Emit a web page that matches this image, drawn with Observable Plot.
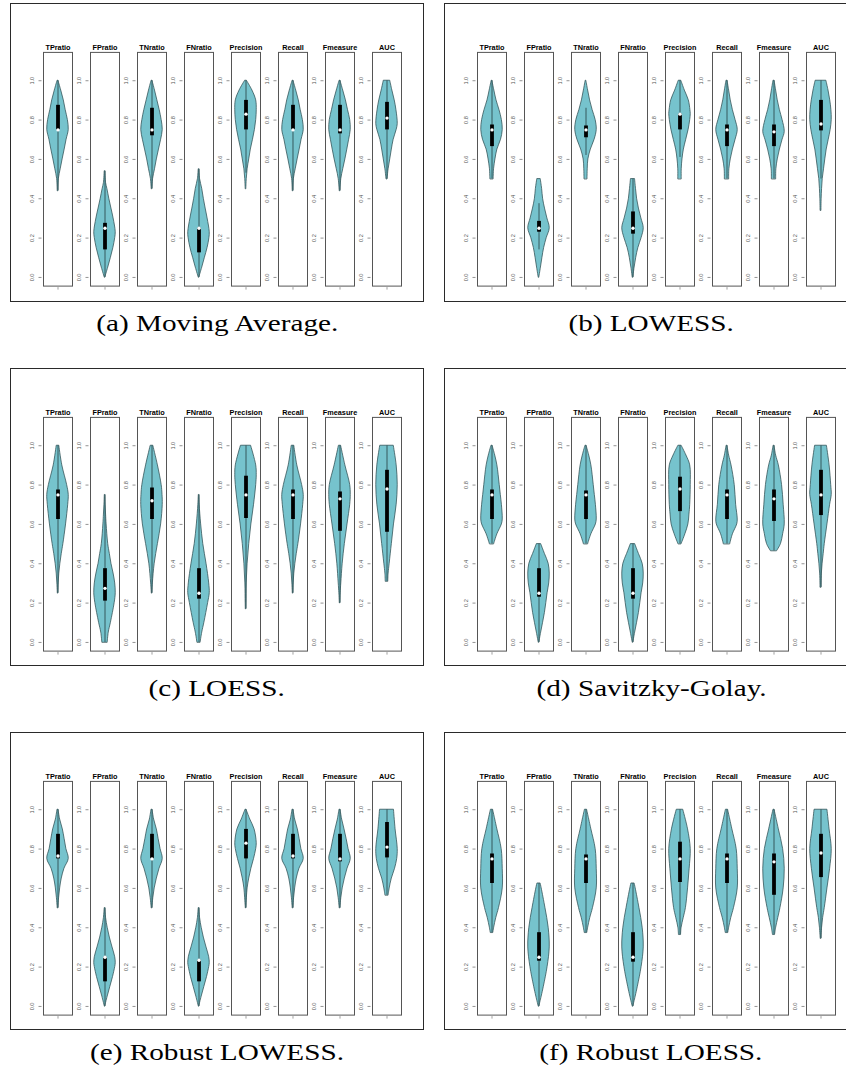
<!DOCTYPE html>
<html><head><meta charset="utf-8">
<script src="https://cdn.jsdelivr.net/npm/d3@7"></script>
<script src="https://cdn.jsdelivr.net/npm/@observablehq/plot@0.6"></script>
<style>
html,body{margin:0;padding:0;background:#fff;}
body{width:846px;height:1071px;overflow:hidden;position:relative;}
.panel{position:absolute;width:414px;height:298.5px;}
.panel .border{position:absolute;left:0;top:0;right:0;bottom:0;border:1.3px solid #2a2a2a;box-sizing:border-box;pointer-events:none;}
.panel svg{position:absolute;left:0;top:0;}
.cap{position:absolute;width:414px;text-align:center;font-family:"Liberation Serif","Times New Roman",serif;font-size:23px;line-height:23px;white-space:nowrap;color:#000;}
.cap span{display:inline-block;transform:scaleX(1.27);}
</style></head><body>
<script>
const metrics = ["TPratio","FPratio","TNratio","FNratio","Precision","Recall","Fmeasure","AUC"];
const captions = ["(a) Moving Average.","(b) LOWESS.","(c) LOESS.","(d) Savitzky-Golay.","(e) Robust LOWESS.","(f) Robust LOESS."];
const yTicks = [0, 0.2, 0.4, 0.6, 0.8, 1.0];

// quartiles and medians, panel x metric
const q1s = [
  [0.75,0.14,0.72,0.125,0.75,0.75,0.73,0.75],
  [0.665,0.23,0.71,0.22,0.75,0.665,0.665,0.745],
  [0.625,0.21,0.625,0.22,0.63,0.625,0.565,0.56],
  [0.625,0.23,0.625,0.22,0.665,0.625,0.615,0.645],
  [0.75,0.125,0.75,0.125,0.75,0.75,0.735,0.755],
  [0.625,0.23,0.625,0.225,0.63,0.625,0.565,0.655]
];
const medians = [
  [0.75,0.25,0.75,0.25,0.83,0.75,0.75,0.81],
  [0.75,0.25,0.75,0.25,0.83,0.75,0.74,0.78],
  [0.75,0.275,0.72,0.25,0.75,0.75,0.73,0.78],
  [0.75,0.25,0.75,0.25,0.78,0.75,0.73,0.75],
  [0.765,0.25,0.75,0.235,0.83,0.765,0.75,0.81],
  [0.75,0.25,0.75,0.25,0.75,0.75,0.735,0.78]
];
const q3s = [
  [0.875,0.275,0.86,0.25,0.9,0.875,0.875,0.89],
  [0.775,0.285,0.77,0.333,0.83,0.775,0.775,0.9],
  [0.775,0.375,0.785,0.375,0.845,0.775,0.765,0.875],
  [0.775,0.375,0.77,0.375,0.84,0.775,0.775,0.875],
  [0.875,0.25,0.875,0.235,0.9,0.875,0.875,0.935],
  [0.775,0.375,0.77,0.375,0.835,0.775,0.775,0.875]
];
const whiskerLo = [
  [0.44,0,0.45,0,0.53,0.44,0.44,0.5],
  [0.5,0.14,0.62,0,0.61,0.5,0.5,0.5],
  [0.25,0,0.25,0,0.17,0.25,0.2,0.31],
  [0.5,0,0.5,0,0.5,0.5,0.465,0.28],
  [0.5,0,0.5,0,0.5,0.5,0.5,0.565],
  [0.375,0,0.375,0,0.365,0.375,0.365,0.345]
];
const whiskerHi = [
  [1,0.54,1,0.55,1,1,1,1],
  [1,0.375,0.86,0.5,1,1,1,1],
  [1,0.75,1,0.75,1,1,1,1],
  [1,0.5,1,0.5,1,1,1,1],
  [1,0.5,1,0.5,1,1,1,1],
  [1,0.625,1,0.625,1,1,1,1]
];

// violin profiles: [value, relative half-width]
const shapeA = [
  [[0.44,0.03],[0.5,0.08],[0.55,0.25],[0.6,0.43],[0.65,0.62],[0.7,0.8],[0.75,1.0],[0.8,0.92],[0.85,0.72],[0.9,0.54],[0.95,0.3],[1.0,0.04]],
  [[0,0.03],[0.05,0.3],[0.1,0.55],[0.15,0.78],[0.2,0.95],[0.23,1.0],[0.3,0.8],[0.35,0.6],[0.4,0.4],[0.45,0.22],[0.48,0.1],[0.54,0.03]],
  [[0.45,0.03],[0.5,0.1],[0.55,0.28],[0.6,0.45],[0.65,0.65],[0.7,0.85],[0.75,1.0],[0.8,0.9],[0.85,0.72],[0.9,0.5],[0.95,0.28],[1.0,0.04]],
  [[0,0.03],[0.05,0.3],[0.1,0.55],[0.15,0.8],[0.2,0.97],[0.23,1.0],[0.3,0.8],[0.35,0.62],[0.4,0.45],[0.45,0.3],[0.5,0.1],[0.55,0.03]],
  [[0.45,0.03],[0.5,0.07],[0.55,0.15],[0.6,0.3],[0.65,0.45],[0.7,0.65],[0.75,0.83],[0.8,0.95],[0.85,1.0],[0.9,0.95],[0.95,0.6],[1.0,0.08]],
  [[0.44,0.03],[0.5,0.08],[0.55,0.25],[0.6,0.43],[0.65,0.62],[0.7,0.8],[0.75,1.0],[0.8,0.92],[0.85,0.72],[0.9,0.54],[0.95,0.3],[1.0,0.04]],
  [[0.44,0.03],[0.5,0.12],[0.55,0.3],[0.6,0.5],[0.65,0.68],[0.7,0.85],[0.75,1.0],[0.8,0.95],[0.85,0.75],[0.9,0.55],[0.95,0.3],[1.0,0.04]],
  [[0.5,0.05],[0.55,0.15],[0.6,0.3],[0.65,0.45],[0.7,0.62],[0.75,0.9],[0.78,1.0],[0.85,0.88],[0.9,0.72],[0.95,0.5],[1.0,0.3]]
];
const shapeB = [
  [[0.5,0.15],[0.55,0.19],[0.6,0.32],[0.65,0.5],[0.7,0.84],[0.75,1.0],[0.8,0.92],[0.85,0.7],[0.9,0.42],[0.95,0.22],[1.0,0.03]],
  [[0,0.03],[0.05,0.18],[0.1,0.32],[0.15,0.48],[0.2,0.72],[0.25,1.0],[0.3,0.78],[0.35,0.56],[0.4,0.38],[0.45,0.29],[0.5,0.16]],
  [[0.5,0.14],[0.55,0.16],[0.6,0.22],[0.65,0.45],[0.7,0.8],[0.75,1.0],[0.8,0.9],[0.85,0.62],[0.9,0.38],[0.95,0.2],[1.0,0.03]],
  [[0,0.03],[0.05,0.15],[0.1,0.3],[0.15,0.5],[0.2,0.8],[0.25,1.0],[0.3,0.78],[0.35,0.55],[0.4,0.38],[0.45,0.28],[0.5,0.19]],
  [[0.5,0.16],[0.55,0.16],[0.6,0.23],[0.65,0.36],[0.7,0.58],[0.75,0.8],[0.8,0.95],[0.83,1.0],[0.85,0.97],[0.9,0.82],[0.95,0.45],[1.0,0.12]],
  [[0.5,0.2],[0.55,0.22],[0.6,0.35],[0.65,0.55],[0.7,0.8],[0.75,1.0],[0.8,0.8],[0.85,0.55],[0.9,0.35],[0.95,0.2],[1.0,0.05]],
  [[0.5,0.2],[0.55,0.22],[0.6,0.35],[0.65,0.55],[0.7,0.8],[0.74,1.0],[0.8,0.8],[0.85,0.55],[0.9,0.35],[0.95,0.2],[1.0,0.05]],
  [[0.34,0.04],[0.4,0.06],[0.45,0.1],[0.5,0.16],[0.55,0.28],[0.6,0.4],[0.65,0.53],[0.7,0.72],[0.75,0.9],[0.8,1.0],[0.85,0.97],[0.9,0.86],[0.95,0.7],[1.0,0.5]]
];
const shapeC = [
  [[0.25,0.02],[0.3,0.06],[0.35,0.12],[0.4,0.22],[0.45,0.35],[0.5,0.5],[0.6,0.75],[0.7,0.95],[0.75,1.0],[0.8,0.85],[0.9,0.4],[1.0,0.12]],
  [[0,0.25],[0.05,0.35],[0.1,0.55],[0.2,0.9],[0.25,1.0],[0.3,0.95],[0.35,0.8],[0.4,0.6],[0.45,0.45],[0.5,0.3],[0.6,0.15],[0.65,0.1],[0.7,0.05],[0.75,0.02]],
  [[0.25,0.02],[0.3,0.08],[0.4,0.25],[0.5,0.55],[0.6,0.85],[0.7,1.0],[0.75,0.98],[0.8,0.9],[0.9,0.55],[1.0,0.12]],
  [[0,0.15],[0.05,0.3],[0.1,0.5],[0.2,0.85],[0.25,1.0],[0.3,0.95],[0.4,0.7],[0.5,0.4],[0.6,0.2],[0.7,0.06],[0.75,0.02]],
  [[0.17,0.02],[0.2,0.03],[0.3,0.06],[0.4,0.15],[0.5,0.3],[0.6,0.5],[0.7,0.75],[0.8,0.95],[0.85,1.0],[0.9,0.95],[1.0,0.47]],
  [[0.25,0.02],[0.3,0.06],[0.35,0.12],[0.4,0.22],[0.45,0.35],[0.5,0.5],[0.6,0.75],[0.7,0.95],[0.75,1.0],[0.8,0.85],[0.9,0.4],[1.0,0.12]],
  [[0.2,0.02],[0.25,0.06],[0.3,0.12],[0.4,0.25],[0.5,0.45],[0.6,0.7],[0.7,0.95],[0.75,1.0],[0.8,0.95],[0.9,0.5],[1.0,0.1]],
  [[0.31,0.12],[0.35,0.15],[0.4,0.25],[0.5,0.45],[0.6,0.65],[0.7,0.9],[0.8,1.0],[0.9,0.9],[1.0,0.63]]
];
const shapeD = [
  [[0.5,0.2],[0.55,0.5],[0.6,0.92],[0.625,1.0],[0.7,0.92],[0.75,0.82],[0.8,0.72],[0.85,0.62],[0.9,0.5],[0.95,0.3],[1.0,0.05]],
  [[0,0.03],[0.05,0.2],[0.1,0.38],[0.15,0.55],[0.2,0.68],[0.25,0.8],[0.3,0.95],[0.35,1.0],[0.4,0.9],[0.45,0.55],[0.5,0.2]],
  [[0.5,0.2],[0.55,0.5],[0.6,0.92],[0.625,1.0],[0.7,0.92],[0.75,0.82],[0.8,0.72],[0.85,0.62],[0.9,0.5],[0.95,0.3],[1.0,0.05]],
  [[0,0.03],[0.05,0.2],[0.1,0.38],[0.15,0.55],[0.2,0.68],[0.25,0.8],[0.3,0.95],[0.35,1.0],[0.4,0.9],[0.45,0.55],[0.5,0.2]],
  [[0.5,0.15],[0.55,0.5],[0.6,0.78],[0.65,0.88],[0.7,0.95],[0.8,1.0],[0.9,0.95],[0.95,0.6],[1.0,0.15]],
  [[0.5,0.3],[0.55,0.55],[0.6,0.95],[0.625,1.0],[0.7,0.85],[0.8,0.72],[0.9,0.42],[0.95,0.2],[1.0,0.04]],
  [[0.465,0.3],[0.5,0.65],[0.55,0.85],[0.6,1.0],[0.7,0.9],[0.8,0.75],[0.9,0.45],[0.95,0.2],[1.0,0.04]],
  [[0.28,0.05],[0.3,0.05],[0.35,0.08],[0.4,0.15],[0.45,0.25],[0.5,0.35],[0.6,0.6],[0.7,0.85],[0.75,1.0],[0.8,0.95],[0.9,0.8],[1.0,0.55]]
];
const shapeE = [
  [[0.5,0.03],[0.55,0.1],[0.6,0.2],[0.65,0.35],[0.7,0.6],[0.75,1.0],[0.8,0.78],[0.85,0.62],[0.9,0.45],[0.95,0.2],[1.0,0.05]],
  [[0,0.02],[0.05,0.25],[0.1,0.5],[0.15,0.75],[0.2,0.95],[0.22,1.0],[0.25,0.95],[0.3,0.7],[0.35,0.45],[0.4,0.25],[0.45,0.1],[0.5,0.03]],
  [[0.5,0.03],[0.55,0.12],[0.6,0.25],[0.65,0.45],[0.7,0.7],[0.75,1.0],[0.8,0.8],[0.85,0.62],[0.9,0.45],[0.95,0.2],[1.0,0.05]],
  [[0,0.02],[0.05,0.25],[0.1,0.5],[0.15,0.75],[0.2,0.95],[0.22,1.0],[0.25,0.95],[0.3,0.7],[0.35,0.45],[0.4,0.25],[0.45,0.1],[0.5,0.03]],
  [[0.5,0.02],[0.55,0.08],[0.6,0.15],[0.65,0.3],[0.7,0.5],[0.75,0.75],[0.8,0.95],[0.83,1.0],[0.9,0.8],[0.95,0.4],[1.0,0.05]],
  [[0.5,0.03],[0.55,0.1],[0.6,0.2],[0.65,0.35],[0.7,0.6],[0.75,1.0],[0.8,0.78],[0.85,0.62],[0.9,0.45],[0.95,0.2],[1.0,0.05]],
  [[0.5,0.03],[0.55,0.12],[0.6,0.25],[0.65,0.45],[0.7,0.7],[0.75,1.0],[0.8,0.8],[0.85,0.62],[0.9,0.42],[0.95,0.2],[1.0,0.05]],
  [[0.565,0.15],[0.6,0.25],[0.65,0.45],[0.7,0.75],[0.75,0.95],[0.8,1.0],[0.9,0.8],[1.0,0.65]]
];
const shapeF = [
  [[0.375,0.12],[0.4,0.2],[0.45,0.4],[0.5,0.65],[0.6,1.0],[0.7,1.0],[0.8,0.9],[0.9,0.5],[0.95,0.3],[1.0,0.1]],
  [[0,0.03],[0.05,0.25],[0.1,0.45],[0.2,0.8],[0.3,1.0],[0.4,0.9],[0.5,0.6],[0.6,0.25],[0.625,0.15]],
  [[0.375,0.12],[0.4,0.2],[0.45,0.4],[0.5,0.65],[0.6,1.0],[0.7,1.0],[0.8,0.9],[0.9,0.5],[0.95,0.3],[1.0,0.1]],
  [[0,0.03],[0.05,0.25],[0.1,0.45],[0.2,0.8],[0.3,1.0],[0.4,0.9],[0.5,0.6],[0.6,0.25],[0.625,0.15]],
  [[0.365,0.1],[0.4,0.15],[0.45,0.35],[0.5,0.55],[0.6,0.75],[0.7,0.9],[0.8,1.0],[0.9,0.75],[1.0,0.3]],
  [[0.375,0.12],[0.4,0.2],[0.45,0.4],[0.5,0.65],[0.6,1.0],[0.7,1.0],[0.8,0.9],[0.9,0.5],[0.95,0.3],[1.0,0.1]],
  [[0.365,0.1],[0.4,0.2],[0.45,0.4],[0.5,0.6],[0.6,0.9],[0.7,1.0],[0.8,0.85],[0.9,0.45],[1.0,0.05]],
  [[0.345,0.03],[0.4,0.1],[0.45,0.2],[0.5,0.35],[0.6,0.6],[0.7,0.85],[0.8,1.0],[0.9,0.8],[1.0,0.6]]
];
const shapes = [shapeA, shapeB, shapeC, shapeD, shapeE, shapeF];

const panelLeft = [10, 444.3];
const panelTop = [3.4, 367.7, 731.7];

function makePanel(p) {
  const rows = shapes[p].flatMap((prof, i) => prof.map(([y, w]) => ({metric: metrics[i], y, w})));
  const stats = metrics.map((m, i) => ({
    metric: m, lo: whiskerLo[p][i], hi: whiskerHi[p][i],
    q1: q1s[p][i], med: medians[p][i], q3: q3s[p][i]
  }));
  return Plot.plot({
    width: 414, height: 298.5,
    marginLeft: 33.3, marginRight: 22.3, marginTop: 48.9, marginBottom: 15.9,
    fx: {domain: metrics, paddingInner: 18 / 47, paddingOuter: 0, axis: null},
    x: {domain: [0.46, 1.54], axis: null},
    y: {domain: [-0.044, 1.144], axis: null},
    style: {fontFamily: "'Liberation Sans', Arial, sans-serif", background: "transparent", overflow: "visible"},
    marks: [
      Plot.frame({stroke: "#555", strokeWidth: 1}),
      Plot.areaX(rows, {fx: "metric", y: "y", x1: d => 1 - 0.4 * d.w, x2: d => 1 + 0.4 * d.w,
        fill: "#76c3cd", stroke: "#2d4d52", strokeWidth: 0.75, curve: "catmull-rom"}),
      Plot.ruleX(stats, {fx: "metric", x: () => 1, y1: "lo", y2: "hi", stroke: "#35595d", strokeWidth: 1}),
      Plot.ruleX(stats, {fx: "metric", x: () => 1, y1: "q1", y2: "q3", stroke: "#000", strokeWidth: 3.8}),
      Plot.dot(stats, {fx: "metric", x: () => 1, y: "med", r: 1.7, fill: "#fff", stroke: null}),
      Plot.ruleY(yTicks, {y: d => d, x1: 0.46, x2: 0.46, insetLeft: -4.5, insetRight: 1.5, stroke: "#666", strokeWidth: 0.7}),
      Plot.text(yTicks, {y: d => d, x: 0.46, text: d => d.toFixed(1), rotate: -90, dx: -11, fontSize: 5.6, fill: "#555"}),
      Plot.ruleX([1], {x: d => d, y1: -0.044, y2: -0.044, insetTop: 1.5, insetBottom: -4, stroke: "#777", strokeWidth: 0.7}),
      Plot.axisFx({anchor: "top", label: null, tickSize: 0, tickPadding: 2, fontSize: 7.3, fontWeight: "bold", color: "#000"})
    ]
  });
}

for (let p = 0; p < 6; p++) {
  const col = p % 2, row = Math.floor(p / 2);
  const div = document.createElement("div");
  div.className = "panel";
  div.style.left = panelLeft[col] + "px";
  div.style.top = panelTop[row] + "px";
  div.appendChild(makePanel(p));
  const b = document.createElement("div");
  b.className = "border";
  div.appendChild(b);
  document.body.appendChild(div);

  const cap = document.createElement("div");
  cap.className = "cap";
  cap.style.left = panelLeft[col] + "px";
  cap.style.top = (panelTop[row] + 328.3 - 19.3) + "px";
  const sp = document.createElement("span");
  sp.textContent = captions[p];
  cap.appendChild(sp);
  document.body.appendChild(cap);
}
</script>
</body></html>
